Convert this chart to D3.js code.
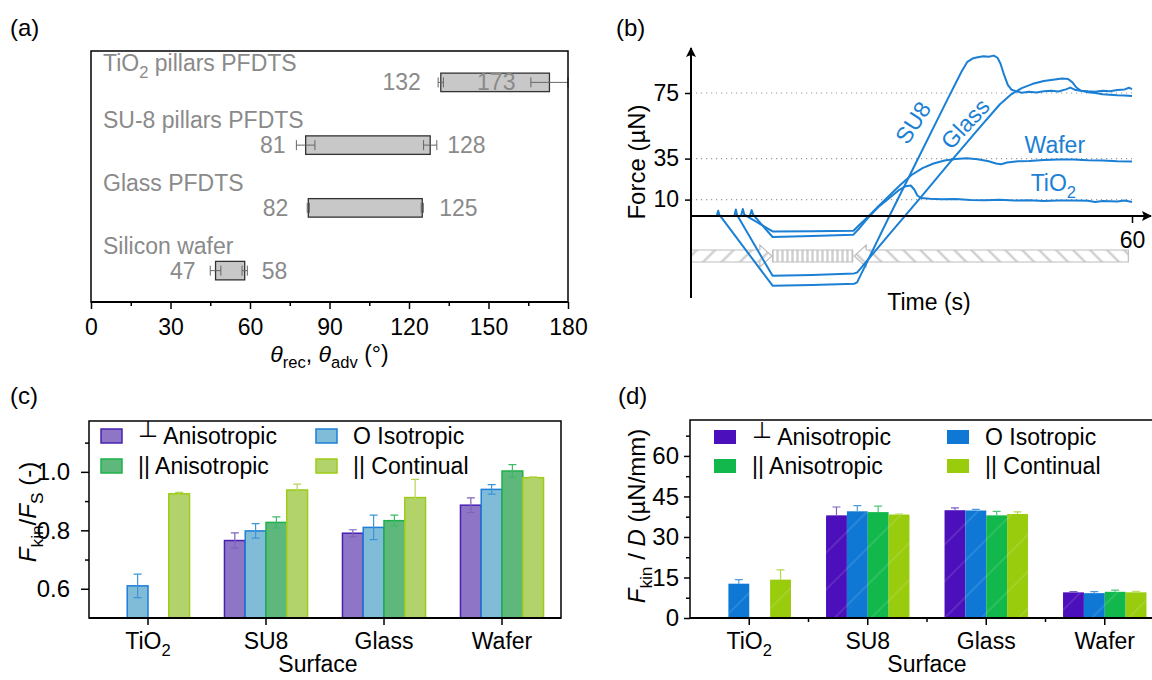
<!DOCTYPE html>
<html>
<head>
<meta charset="utf-8">
<script src="https://cdn.jsdelivr.net/npm/d3@7"></script>
<style>
  body { margin: 0; background: #fff; }
</style>
</head>
<body>
<svg id="fig" width="1152" height="680"></svg>
<script>
// ---------- data ----------
// (a) contact angles
var coatingsA = ["TiO2 pillars PFDTS", "SU-8 pillars PFDTS", "Glass PFDTS", "Silicon wafer"];
var recedingA = [132, 81, 82, 47];
var recedingErrA = [1, 3.5, 0.4, 2];
var advancingA = [173, 128, 125, 58];
var advancingErrA = [7, 2.5, 0.4, 1];
var angleTicksA = [0, 30, 60, 90, 120, 150, 180];
var angleMinorA = [15, 45, 75, 105, 135, 165];

// (b) force traces [time s, force uN]
var forceTicksB = [10, 35, 75];
var timeTicksB = [60];
var su8B = [[0,0],[3.5,0],[3.7,3.2],[3.85,0.8],[11.1,-42.5],[16.5,-42],[22.2,-41.3],[22.6,-40.5],
  [27,0],[31,36],[35,72],[36.8,88],[37.6,94],[38.3,96],[39,96.8],[39.8,97.4],[40.5,97.1],[41.2,97.8],
  [41.7,96.5],[42.1,93],[42.6,86],[43.1,80],[43.6,77],[44.3,76],[45,75.2],[46,75.8],[47,75.3],[48,76],
  [49,76.4],[50,75.9],[51,77.2],[51.6,78.3],[52.2,77],[53,76.4],[54,76],[55,75.8],[56,76.3],[57,76.1],
  [58,76.8],[59,77.2],[59.6,78.2],[60,77.4]];
var glassB = [[0,0],[5.9,0],[6.1,4],[6.25,0.8],[11.1,-36.5],[16.5,-36],[22.2,-35],[22.6,-34.5],
  [27,-11],[31,10],[35,31.5],[39,52.5],[42,68],[43.5,74],[45,78],[46.5,80.6],[48,82.3],[49.5,83.3],
  [50.5,83.8],[51.3,83.5],[51.9,81.5],[52.4,78.5],[53,76.5],[54,75.5],[55,75],[56,74.3],[57,74],
  [58,73.6],[59,73.5],[60,73.2]];
var waferB = [[0,0],[6.8,0],[7.05,4.3],[7.25,0.8],[11.1,-9.4],[16.5,-9.3],[22.1,-9],[23,-5],[24.2,0],
  [25.5,6],[27,12.5],[28.5,19],[30,25],[31.5,29.2],[33,32],[34.5,33.8],[36,34.8],[37.5,35.2],[39,34.6],
  [40.5,33.4],[41.5,32],[42.2,31.6],[43,32.6],[44.5,33.4],[46,33.6],[48,34.2],[50,34.5],[52,34.5],
  [54,34],[56,33.8],[58,33.4],[60,33.2]];
var tio2B = [[0,0],[8,0],[8.25,3.6],[8.45,0.8],[11.1,-12.8],[16.5,-12.2],[22.1,-11.4],[23,-7],[24.2,-0.5],
  [25.5,5.5],[27,11],[28.3,15.8],[29.2,18.2],[29.9,18.6],[30.4,16],[30.8,12.5],[31.3,11],[32.5,10.5],
  [34,10.2],[36,10.4],[38,9.8],[40,9.6],[42,9.9],[44,9.5],[46,9.6],[48,9.2],[50,9.4],[52,9.5],[54,9.3],
  [55,8.6],[56,9.2],[58,8.9],[59,9.4],[60,8.6]];
var phaseStartB = [0, 11.1, 22.2];
var phaseEndB = [11.0, 22.0, 59.5];

// (c), (d) bar charts
var surfaces = ["TiO2", "SU8", "Glass", "Wafer"];
var seriesNames = ["\u22A5 Anisotropic", "O Isotropic", "|| Anisotropic", "|| Continual"];

var ratioPerpAniso = [null, 0.765, 0.790, 0.886];
var ratioIso = [0.610, 0.798, 0.810, 0.940];
var ratioParAniso = [null, 0.827, 0.833, 1.003];
var ratioContinual = [0.925, 0.938, 0.912, 0.980];
var ratioPerpAnisoErr = [null, 0.026, 0.012, 0.025];
var ratioIsoErr = [0.040, 0.025, 0.042, 0.016];
var ratioParAnisoErr = [null, 0.019, 0.019, 0.022];
var ratioContinualErr = [0.005, 0.020, 0.062, 0.003];
var ratioTicks = [0.6, 0.8, 1.0];
var ratioMinor = [0.7, 0.9, 1.1];

var forcePerpAniso = [null, 38.0, 39.9, 9.5];
var forceIso = [12.7, 39.5, 39.8, 9.2];
var forceParAniso = [null, 39.2, 38.0, 9.7];
var forceContinual = [14.2, 38.3, 38.5, 9.5];
var forcePerpAnisoErr = [null, 3.1, 0.9, 0.3];
var forceIsoErr = [1.5, 2.1, 0.4, 0.6];
var forceParAnisoErr = [null, 2.2, 1.5, 0.6];
var forceContinualErr = [3.6, 0.2, 0.8, 0.4];
var forceTicksD = [0, 15, 30, 45, 60];
var forceMinorD = [7.5, 22.5, 37.5, 52.5, 67.5];

// ---------- helpers ----------
var FONT = '"Liberation Sans", Arial, "DejaVu Sans", sans-serif';
var FS = 23;
var svg = d3.select("#fig").attr("font-family", FONT);

/**
 * Appends tspans: [text, style] with style "", "i", "sub", "up".
 */
var addParts = function(text, parts, fs) {
  var shift = 0;
  parts.forEach(function(p) {
    var ts = text.append("tspan").text(p[0]);
    if (p[1] === "i") ts.attr("font-style", "italic");
    if (p[1] === "sub") {
      ts.attr("font-size", fs * 0.72).attr("dy", fs * 0.28);
      shift = fs * 0.28;
    } else if (p[1] === "up") {
      ts.attr("dy", -fs * 0.3);
      shift = -fs * 0.3;
    } else if (shift !== 0) {
      ts.attr("dy", -shift);
      shift = 0;
    }
  });
  return text;
};

var chem = function(s) {
  var i = s.indexOf("TiO2");
  if (i < 0) return [[s, ""]];
  var parts = [[s.slice(0, i) + "TiO", ""], ["2", "sub"]];
  if (s.slice(i + 4)) parts.push([s.slice(i + 4), ""]);
  return parts;
};

var legendParts = function(s) {
  if (s.charAt(0) === "\u22A5") return [["\u22A5", "up"], [s.slice(1), ""]];
  return [[s, ""]];
};

var styleAxis = function(g, fs) {
  g.attr("font-family", FONT).attr("font-size", fs);
  g.select(".domain").remove();
  g.selectAll(".tick line").attr("stroke", "#000").attr("stroke-width", 1.5);
  g.selectAll(".tick text").attr("fill", "#000");
};

// panel letters
[["(a)", 10, 36], ["(b)", 616, 36], ["(c)", 10, 404], ["(d)", 618, 404]].forEach(function(p) {
  svg.append("text").attr("x", p[1]).attr("y", p[2]).attr("font-size", 24).text(p[0]);
});

// ---------- (a) ----------
var gA = svg.append("g");
var xA = d3.scaleLinear().domain([0, 180]).range([91, 568]);
var yA = d3.scaleBand().domain(coatingsA).range([51, 302]);
var barHA = 18.5;
var grey = "#8a8a8a";

gA.append("g").attr("transform", "translate(0,302)")
  .call(d3.axisBottom(xA).tickValues(angleMinorA).tickSize(4).tickFormat(""))
  .call(styleAxis, FS);
gA.append("g").attr("transform", "translate(0,302)")
  .call(d3.axisBottom(xA).tickValues(angleTicksA).tickSize(7).tickPadding(10))
  .call(styleAxis, FS);

gA.selectAll(".barA").data(coatingsA).enter().append("rect")
  .attr("x", function(d, i) { return xA(recedingA[i]); })
  .attr("width", function(d, i) { return xA(advancingA[i]) - xA(recedingA[i]); })
  .attr("y", function(d) { return yA(d) + yA.bandwidth() / 2 - barHA / 2; })
  .attr("height", barHA)
  .attr("fill", "#c8c8c8").attr("stroke", "#333").attr("stroke-width", 1.3);

// error bars
var errA = [];
coatingsA.forEach(function(c, i) {
  errA.push({c: c, v: recedingA[i], e: recedingErrA[i]});
  errA.push({c: c, v: advancingA[i], e: advancingErrA[i]});
});
var cy = function(c) { return yA(c) + yA.bandwidth() / 2; };
gA.selectAll(".errA").data(errA).enter().append("path")
  .attr("d", function(d) {
    var x0 = xA(d.v - d.e), x1 = xA(Math.min(d.v + d.e, 180)), y = cy(d.c);
    return "M" + x0 + "," + y + "H" + x1 + "M" + x0 + "," + (y - 5) + "V" + (y + 5) +
      "M" + x1 + "," + (y - 5) + "V" + (y + 5);
  })
  .attr("fill", "none").attr("stroke", "#666").attr("stroke-width", 1);

gA.selectAll(".recA").data(coatingsA).enter().append("text")
  .attr("x", function(d, i) { return xA(recedingA[i]) - 20; })
  .attr("y", function(d) { return cy(d) + 8; })
  .attr("text-anchor", "end").attr("font-size", FS).attr("fill", grey)
  .text(function(d, i) { return recedingA[i]; });
gA.selectAll(".advA").data(coatingsA).enter().append("text")
  .attr("x", function(d, i) {
    return xA(advancingA[i]) + 50 > xA(180) ? xA(advancingA[i]) - 34 : xA(advancingA[i]) + 17;
  })
  .attr("text-anchor", function(d, i) { return xA(advancingA[i]) + 50 > xA(180) ? "end" : "start"; })
  .attr("y", function(d) { return cy(d) + 8; })
  .attr("font-size", FS).attr("fill", grey)
  .text(function(d, i) { return advancingA[i]; });
gA.selectAll(".titleA").data(coatingsA).enter().append("text")
  .attr("x", 103).attr("y", function(d, i) { return cy(d) - (i === 0 ? 11 : 17); })
  .attr("font-size", FS).attr("fill", grey)
  .each(function(d) { addParts(d3.select(this), chem(d), FS); });

gA.append("rect").attr("x", xA(0)).attr("y", 51).attr("width", xA(180) - xA(0)).attr("height", 251)
  .attr("fill", "none").attr("stroke", "#000").attr("stroke-width", 1.5);
gA.append("line").attr("x1", xA(0)).attr("x2", xA(180)).attr("y1", 302).attr("y2", 302)
  .attr("stroke", "#000").attr("stroke-width", 2);
addParts(gA.append("text").attr("x", (xA(0) + xA(180)) / 2).attr("y", 362)
  .attr("text-anchor", "middle").attr("font-size", FS),
  [["\u03B8", "i"], ["rec", "sub"], [", ", ""], ["\u03B8", "i"], ["adv", "sub"], [" (\u00B0)", ""]], FS);

// ---------- (b) ----------
var gB = svg.append("g");
var xB = d3.scaleLinear().domain([0, 60]).range([691, 1132]);
var yB = d3.scaleLinear().domain([0, 75]).range([216, 93]);
var blue = "#1b7fd4";

var defs = svg.append("defs");
defs.append("marker").attr("id", "arrow").attr("viewBox", "0 0 10 10").attr("refX", 9).attr("refY", 5)
  .attr("markerWidth", 10).attr("markerHeight", 10).attr("markerUnits", "userSpaceOnUse")
  .attr("orient", "auto")
  .append("path").attr("d", "M0,0L10,5L0,10L2,5Z").attr("fill", "#000");
[["hatchR", 45, 13], ["hatchV", 0, 5], ["hatchL", -45, 12]].forEach(function(h) {
  var p = defs.append("pattern").attr("id", h[0]).attr("patternUnits", "userSpaceOnUse")
    .attr("width", h[2]).attr("height", h[2]).attr("patternTransform", "rotate(" + h[1] + ")");
  p.append("rect").attr("width", h[2]).attr("height", h[2]).attr("fill", "#fff");
  p.append("line").attr("x1", h[2] / 2).attr("x2", h[2] / 2).attr("y1", 0).attr("y2", h[2])
    .attr("stroke", "#cfcfcf").attr("stroke-width", 2.4);
});
defs.append("pattern").attr("id", "sheen").attr("patternUnits", "userSpaceOnUse")
  .attr("width", 26).attr("height", 26).attr("patternTransform", "rotate(45)")
  .append("line").attr("x1", 13).attr("x2", 13).attr("y1", 0).attr("y2", 26)
  .attr("stroke", "#fff").attr("stroke-opacity", 0.22).attr("stroke-width", 1);

gB.selectAll(".gridB").data(forceTicksB).enter().append("line")
  .attr("x1", xB(0)).attr("x2", xB(60))
  .attr("y1", function(d) { return yB(d); }).attr("y2", function(d) { return yB(d); })
  .attr("stroke", "#999").attr("stroke-width", 1.2).attr("stroke-dasharray", "1.2,3.8");
gB.append("g").attr("transform", "translate(" + xB(0) + ",0)")
  .call(d3.axisLeft(yB).tickValues(forceTicksB).tickSize(6).tickPadding(6))
  .call(styleAxis, FS);
gB.append("g").attr("transform", "translate(0," + yB(0) + ")")
  .call(d3.axisBottom(xB).tickValues(timeTicksB).tickSize(7).tickPadding(9))
  .call(styleAxis, FS);

// phase arrows band
var bandY = 256, bandH = 6, headH = 11, headL = 12;
var phaseFill = ["url(#hatchR)", "url(#hatchV)", "url(#hatchL)"];
gB.selectAll(".phase").data(phaseStartB).enter().append("path")
  .attr("d", function(d, i) {
    var x0 = xB(d), x1 = xB(phaseEndB[i]);
    if (i === 0) {
      return "M" + x0 + "," + (bandY - bandH) + "H" + (x1 - headL) + "V" + (bandY - headH) +
        "L" + x1 + "," + bandY + "L" + (x1 - headL) + "," + (bandY + headH) + "V" + (bandY + bandH) +
        "H" + x0 + "Z";
    }
    if (i === 2) {
      return "M" + x1 + "," + (bandY - bandH) + "H" + (x0 + headL) + "V" + (bandY - headH) +
        "L" + x0 + "," + bandY + "L" + (x0 + headL) + "," + (bandY + headH) + "V" + (bandY + bandH) +
        "H" + x1 + "Z";
    }
    return "M" + x0 + "," + (bandY - bandH) + "H" + x1 + "V" + (bandY + bandH) + "H" + x0 + "Z";
  })
  .attr("fill", function(d, i) { return phaseFill[i]; })
  .attr("stroke", "#bdbdbd").attr("stroke-width", 1.2);

var lineB = d3.line().x(function(d) { return xB(d[0]); }).y(function(d) { return yB(d[1]); });
gB.selectAll(".curveB").data([su8B, glassB, waferB, tio2B]).enter().append("path")
  .attr("d", lineB).attr("fill", "none").attr("stroke", blue).attr("stroke-width", 2)
  .attr("stroke-linejoin", "round");

gB.append("line").attr("x1", xB(0)).attr("x2", xB(0)).attr("y1", 298).attr("y2", 48)
  .attr("stroke", "#000").attr("stroke-width", 2).attr("marker-end", "url(#arrow)");
gB.append("line").attr("x1", xB(0)).attr("x2", 1151).attr("y1", yB(0)).attr("y2", yB(0))
  .attr("stroke", "#000").attr("stroke-width", 2).attr("marker-end", "url(#arrow)");

var labelsB = [
  {name: "SU8", t: 30.2, f: 57, rot: -57},
  {name: "Glass", t: 37.3, f: 56.3, rot: -47},
  {name: "Wafer", t: 49.5, f: 38.7, rot: 0},
  {name: "TiO2", t: 49.3, f: 15.1, rot: 0}
];
gB.selectAll(".labB").data(labelsB).enter().append("text")
  .attr("transform", function(d) {
    return "translate(" + xB(d.t) + "," + yB(d.f) + ") rotate(" + d.rot + ")";
  })
  .attr("dy", function(d) { return d.rot ? "0.35em" : 0; })
  .attr("text-anchor", "middle").attr("font-size", FS).attr("fill", blue)
  .each(function(d) { addParts(d3.select(this), chem(d.name), FS); });

gB.append("text").attr("transform", "translate(645,162) rotate(-90)")
  .attr("text-anchor", "middle").attr("font-size", 24).text("Force (\u00B5N)");
gB.append("text").attr("x", 929).attr("y", 310).attr("text-anchor", "middle")
  .attr("font-size", FS).text("Time (s)");

// ---------- (c) & (d) ----------
var drawBars = function(opt) {
  var g = svg.append("g");
  var x = d3.scaleBand().domain(surfaces).range(opt.xRange);
  var y = d3.scaleLinear().domain(opt.yDomain).range(opt.yRange);
  var gw = x.bandwidth() * 0.704;
  var xs = d3.scaleBand().domain([0, 1, 2, 3]).range([0, gw]);
  var bx = function(c, k) { return x(c) + x.bandwidth() / 2 - gw / 2 + xs(k); };
  var y0 = opt.yRange[0];

  opt.values.forEach(function(vals, k) {
    var data = surfaces.map(function(c, i) { return {c: c, v: vals[i], e: opt.errors[k][i]}; })
      .filter(function(d) { return d.v !== null; });
    g.selectAll(".bar" + k).data(data).enter().append("rect")
      .attr("x", function(d) { return bx(d.c, k); })
      .attr("width", xs.bandwidth())
      .attr("y", function(d) { return y(d.v); })
      .attr("height", function(d) { return y0 - y(d.v); })
      .attr("fill", opt.fills[k])
      .attr("stroke", opt.strokes ? opt.strokes[k] : "none")
      .attr("stroke-width", 1.5);
    if (opt.sheen) {
      g.selectAll(".sheen" + k).data(data).enter().append("rect")
        .attr("x", function(d) { return bx(d.c, k); })
        .attr("width", xs.bandwidth())
        .attr("y", function(d) { return y(d.v); })
        .attr("height", function(d) { return y0 - y(d.v); })
        .attr("fill", "url(#sheen)");
    }
  });
  opt.values.forEach(function(vals, k) {
    var data = surfaces.map(function(c, i) { return {c: c, v: vals[i], e: opt.errors[k][i]}; })
      .filter(function(d) { return d.v !== null; });
    g.selectAll(".err" + k).data(data).enter().append("path")
      .attr("d", function(d) {
        var cx = bx(d.c, k) + xs.bandwidth() / 2;
        var top = y(d.v + d.e), bot = opt.upOnly ? y(d.v) : y(d.v - d.e);
        var s = "M" + cx + "," + bot + "V" + top + "M" + (cx - 4) + "," + top + "H" + (cx + 4);
        if (!opt.upOnly) s += "M" + (cx - 4) + "," + bot + "H" + (cx + 4);
        return s;
      })
      .attr("fill", "none").attr("stroke", opt.errColors[k]).attr("stroke-width", 1.2);
  });

  // axes
  g.append("g").attr("transform", "translate(" + opt.xRange[0] + ",0)")
    .call(d3.axisLeft(y).tickValues(opt.minor).tickSize(4).tickFormat(""))
    .call(styleAxis, FS);
  g.append("g").attr("transform", "translate(" + opt.xRange[0] + ",0)")
    .call(d3.axisLeft(y).tickValues(opt.ticks).tickSize(opt.tickLen).tickPadding(opt.tickPad)
      .tickFormat(opt.format))
    .call(styleAxis, 24);
  var xg = g.append("g").attr("transform", "translate(0," + y0 + ")")
    .call(d3.axisBottom(x).tickSize(7).tickPadding(8).tickSizeOuter(0))
    .call(styleAxis, FS);
  xg.selectAll(".tick text").each(function(d) {
    var t = d3.select(this).text(null);
    addParts(t, chem(d), FS);
  });
  if (opt.xMinor) {
    g.selectAll(".xminor").data(surfaces.slice(1)).enter().append("line")
      .attr("x1", function(d) { return x(d); }).attr("x2", function(d) { return x(d); })
      .attr("y1", y0).attr("y2", y0 + 4).attr("stroke", "#000").attr("stroke-width", 1.5);
  }
  g.append("rect").attr("x", opt.xRange[0]).attr("y", opt.yRange[1])
    .attr("width", opt.xRange[1] - opt.xRange[0]).attr("height", y0 - opt.yRange[1])
    .attr("fill", "none").attr("stroke", "#000").attr("stroke-width", 1.5);
  g.append("line").attr("x1", opt.xRange[0]).attr("x2", opt.xRange[1]).attr("y1", y0).attr("y2", y0)
    .attr("stroke", "#000").attr("stroke-width", 2);

  // legend
  seriesNames.forEach(function(name, k) {
    var lx = opt.legX[k % 2], ly = opt.legY[Math.floor(k / 2)];
    g.append("rect").attr("x", lx).attr("y", ly).attr("width", opt.legW).attr("height", opt.legH)
      .attr("fill", opt.fills[k]).attr("stroke", opt.strokes ? opt.strokes[k] : "none")
      .attr("stroke-width", 1.5);
    addParts(g.append("text").attr("x", lx + opt.legW + 16).attr("y", ly + opt.legH / 2 + 8)
      .attr("font-size", FS), legendParts(name), FS);
  });

  addParts(g.append("text").attr("transform", "translate(" + opt.yTitleX + "," + opt.yTitleY + ") rotate(-90)")
    .attr("text-anchor", "middle").attr("font-size", 24), opt.yTitle, 24);
  g.append("text").attr("x", opt.xTitleX).attr("y", 672).attr("text-anchor", "middle")
    .attr("font-size", FS).text("Surface");
};

drawBars({
  xRange: [89, 561], yDomain: [0.5, 1.174], yRange: [618, 421],
  values: [ratioPerpAniso, ratioIso, ratioParAniso, ratioContinual],
  errors: [ratioPerpAnisoErr, ratioIsoErr, ratioParAnisoErr, ratioContinualErr],
  fills: ["#8f75c6", "#80bcd8", "#5fb87b", "#b2d36c"],
  strokes: ["#4a20b4", "#1c7fd8", "#1cb14b", "#9ccc19"],
  errColors: ["#7e64b8", "#3d95d8", "#40b868", "#b5d35a"],
  upOnly: false, sheen: false, xMinor: false,
  ticks: ratioTicks, minor: ratioMinor, format: d3.format(".1f"), tickLen: 8, tickPad: 11,
  legX: [101, 316], legY: [429, 459], legW: 21, legH: 14,
  yTitle: [["F", "i"], ["kin", "sub"], ["/", ""], ["F", "i"], ["S", "sub"], [" (-)", ""]],
  yTitleX: 36, yTitleY: 512, xTitleX: 318
});

drawBars({
  xRange: [690, 1164], yDomain: [0, 73.3], yRange: [618, 420],
  values: [forcePerpAniso, forceIso, forceParAniso, forceContinual],
  errors: [forcePerpAnisoErr, forceIsoErr, forceParAnisoErr, forceContinualErr],
  fills: ["#4b0fbb", "#0f78d5", "#12b84c", "#98cc0c"],
  strokes: null,
  errColors: ["#7d5fc4", "#4f9be0", "#50c578", "#b3d84e"],
  upOnly: true, sheen: true, xMinor: true,
  ticks: forceTicksD, minor: forceMinorD, format: d3.format("d"), tickLen: 6, tickPad: 5,
  legX: [714, 947], legY: [430, 459], legW: 22, legH: 14,
  yTitle: [["F", "i"], ["kin", "sub"], [" / ", ""], ["D", "i"], [" (\u00B5N/mm)", ""]],
  yTitleX: 645, yTitleY: 516, xTitleX: 927
});
</script>
</body>
</html>
